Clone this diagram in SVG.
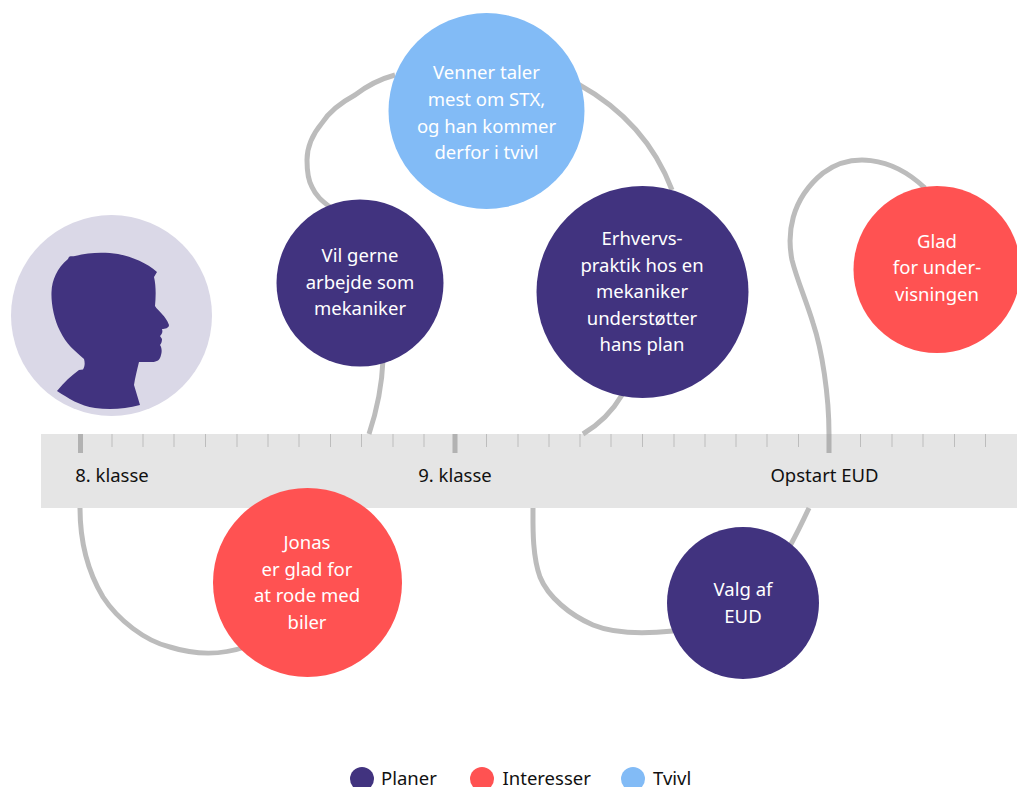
<svg xmlns="http://www.w3.org/2000/svg" width="1017" height="787" viewBox="0 0 1017 787">
<style>
.c{fill:none;stroke:#bcbcbc;stroke-width:5}
.p{fill:#41337f}.r{fill:#ff5252}.b{fill:#82bbf6}
text{font-family:"Noto Sans","Open Sans",sans-serif;font-size:18.5px;text-anchor:middle}
.w{fill:#fff}.k{fill:#111}
.maj{stroke:#b2b2b2;stroke-width:5}.min{stroke:#bdbdbd;stroke-width:1}
</style>
<rect id="band" x="41" y="434" width="976" height="74" fill="#e5e5e5"/>
<g id="connectors">
<path class="c" d="M80 508C80 540 88 572 103 597C118 620 145 641 170 647C195 655 222 655 245 647"/>
<path class="c" d="M383 360C382 385 377 410 369 434"/>
<path class="c" d="M330 207C322 201 316 196 312 187C308 180 307 172 307 160C307 148 312 135 322 123C329 112 342 102 355 95C368 85 380 79 395 75"/>
<path class="c" d="M578 84C625 110 655 145 672 190"/>
<path class="c" d="M622 395C612 412 598 425 583 434"/>
<path class="c" d="M533 508C533 525 532 555 540 577C548 597 570 615 593 625C615 634 645 634 673 631"/>
<path class="c" d="M809 508C802 523 796 535 790 546"/>
<path class="c" d="M829 434C829 395 822 350 813 323C806 300 797 280 792 260C787 235 790 200 823 173C850 153 890 155 925 188"/>
</g>
<g id="ticks">
<path class="min" d="M112 434v13M143 434v13M174 434v13M205.500 434v13M237 434v13M268 434v13M299 434v13M330.500 434v13M361.500 434v13M393 434v13M424 434v13M486.500 434v13M518 434v13M549 434v13M580 434v13M611 434v13M642.500 434v13M674 434v13M705 434v13M736 434v13M767 434v13M798.500 434v13M860.500 434v13M892 434v13M923 434v13M954.500 434v13M985.500 434v13"/>
<path class="maj" d="M80.500 434v19M455 434v19M829 434v19"/>
</g>
<text class="k" x="112" y="481.500">8. klasse</text>
<text class="k" x="455" y="481.500">9. klasse</text>
<text class="k" x="824.500" y="481.500">Opstart EUD</text>
<g id="person">
<circle cx="111.500" cy="315.500" r="100.500" fill="#dad8e7"/>
<path class="p" d="M57 391C64 382 72 375 79 370L83 369.500C85 366 85 363 84 359C75 351 66 344 60 331C54 319 51 303 51.500 292C52 280 57 268 68 259C69 255 72 257 75 256C90 252 105 252 118 254C133 257 147 263 157 272L154 277C156 285 156 296 155 306C158 311 166 316 169 325C169 328 165 329 162 329C163 332 162 334 160 336L162 339C162 342 161 344 160 345C162 348 162 352 161 355C160 360 157 362 152 362L139 362C137 370 135 378 134 385L140 405C125 409 110 410 95 408C80 406 68 398 57 391Z"/>
</g>
<g id="n1"><circle class="r" cx="307.500" cy="582.500" r="94.500"/>
<text class="w" x="307" y="549">Jonas</text><text class="w" x="307" y="575.500">er glad for</text><text class="w" x="307" y="602">at rode med</text><text class="w" x="307" y="628.500">biler</text></g>
<g id="n2"><circle class="p" cx="360" cy="283" r="83.500"/>
<text class="w" x="360" y="262">Vil gerne</text><text class="w" x="360" y="288.500">arbejde som</text><text class="w" x="360" y="315">mekaniker</text></g>
<g id="n3"><circle class="b" cx="486.500" cy="111" r="98"/>
<text class="w" x="486.500" y="79">Venner taler</text><text class="w" x="486.500" y="106">mest om STX,</text><text class="w" x="486.500" y="132.500">og han kommer</text><text class="w" x="486.500" y="159">derfor i tvivl</text></g>
<g id="n4"><circle class="p" cx="642.500" cy="292" r="106"/>
<text class="w" x="642" y="245">Erhvervs-</text><text class="w" x="642" y="271.500">praktik hos en</text><text class="w" x="642" y="298">mekaniker</text><text class="w" x="642" y="324.500">understøtter</text><text class="w" x="642" y="351">hans plan</text></g>
<g id="n5"><circle class="p" cx="743" cy="603" r="76"/>
<text class="w" x="743" y="596">Valg af</text><text class="w" x="743" y="623">EUD</text></g>
<g id="n6"><circle class="r" cx="937" cy="269.500" r="83.500"/>
<text class="w" x="937" y="247.500">Glad</text><text class="w" x="937" y="274">for under-</text><text class="w" x="937" y="301">visningen</text></g>
<g id="legend">
<circle class="p" cx="362" cy="779" r="12"/><text class="k" x="381" y="785" style="text-anchor:start">Planer</text>
<circle class="r" cx="482" cy="779" r="12"/><text class="k" x="502.500" y="785" style="text-anchor:start">Interesser</text>
<circle class="b" cx="633" cy="779" r="12"/><text class="k" x="653" y="785" style="text-anchor:start">Tvivl</text>
</g>
</svg>
